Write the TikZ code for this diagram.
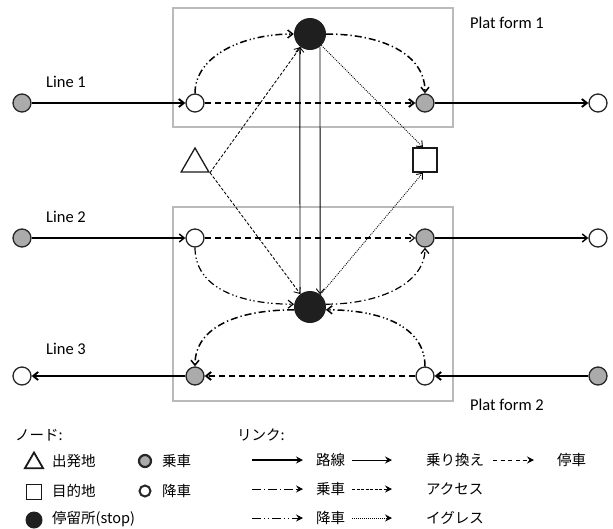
\documentclass[tikz,border=0pt]{standalone}
\usepackage{fontspec}
\setmainfont{Carlito}
\newfontfamily\jp{Noto Sans CJK JP}
\usetikzlibrary{arrows.meta,shapes.geometric,calc}
\begin{document}
\begin{tikzpicture}[x=1pt,y=-1pt,
  nd/.style={circle,draw=black!85,line width=1.3pt,minimum size=18pt,inner sep=0pt},
  board/.style={nd,fill=black!33},
  alight/.style={nd,fill=white},
  stopn/.style={circle,fill=black!88,minimum size=32pt,inner sep=0pt},
  pform/.style={draw=black!27,line width=1.5pt},
  tip/.style={-{Straight Barb[length=5pt,width=8pt]}},
  route/.style={tip,line width=1.9pt},
  routem/.style={tip,line width=1.4pt},
  stopln/.style={tip,line width=1.9pt,dash pattern=on 6pt off 4pt},
  stoplnm/.style={tip,line width=1.1pt,dash pattern=on 6pt off 4pt},
  boardln/.style={tip,line width=1.2pt,dash pattern=on 7pt off 3pt on 1.3pt off 3pt},
  alightln/.style={tip,line width=1.2pt,dash pattern=on 7pt off 3pt on 1.3pt off 2.5pt on 1.3pt off 3pt},
  transfer/.style={tip,line width=0.9pt},
  access/.style={tip,line width=0.85pt,dash pattern=on 3pt off 1.8pt},
  egress/.style={tip,line width=0.9pt,dash pattern=on 0.9pt off 1.2pt},
  lbl/.style={font=\fontsize{16.5}{18}\selectfont,inner sep=0pt},
  jtxt/.style={font=\jp\fontsize{14.5}{16}\selectfont,inner sep=0pt,anchor=west},
  ltip/.style={-{Stealth[length=7pt,width=7pt,inset=2.5pt]}},
]
\useasboundingbox (0,0) rectangle (613,528);

% platforms
\draw[pform] (173,8) rectangle (453,127);
\draw[pform] (173,207) rectangle (453,401);
\node[lbl] (pf1) at (507,23) {Plat form 1};
\node[lbl] (pf2) at (507,405) {Plat form 2};

% line labels
\node[lbl] (t1) at (66,82) {Line 1};
\node[lbl] (t2) at (66,217) {Line 2};
\node[lbl] (t3) at (66,349) {Line 3};

% stops
\node[stopn] (stopT) at (310,34) {};
\node[stopn] (stopB) at (310,307) {};

% line 1
\node[board] (l1s) at (22,103) {};
\node[alight] (a1) at (195,103) {};
\node[board] (b1) at (425,103) {};
\node[alight] (l1e) at (598,103) {};
% line 2
\node[board] (l2s) at (22,238) {};
\node[alight] (a2) at (195,238) {};
\node[board] (b2) at (425,238) {};
\node[alight] (l2e) at (598,238) {};
% line 3
\node[board] (l3s) at (598,376) {};
\node[alight] (a3) at (425,376) {};
\node[board] (b3) at (195,376) {};
\node[alight] (l3e) at (22,376) {};

% origin / destination
\node[regular polygon,regular polygon sides=3,draw=black!90,line width=1.3pt,minimum size=32pt,inner sep=0pt] (tri) at (195,164) {};
\node[rectangle,draw=black!90,line width=1.3pt,minimum size=24pt,inner sep=0pt,fill=white] (sq) at (425,160) {};

% routes
\draw[route] (l1s) -- (a1);
\draw[stopln] (a1) -- (b1);
\draw[route] (b1) -- (l1e);
\draw[routem] (l2s) -- (a2);
\draw[stoplnm] (a2) -- (b2);
\draw[routem] (b2) -- (l2e);
\draw[route] (l3s) -- (a3);
\draw[stopln] (a3) -- (b3);
\draw[route] (b3) -- (l3e);

% alight / board links
\draw[alightln,line width=1.5pt] (a1.north) .. controls +(0,-38) and +(-50,0) .. (stopT.west);
\draw[boardln,line width=1.5pt] (stopT.east) .. controls +(55,0) and +(0,-40) .. (b1.north);
\draw[alightln] (a2.south) .. controls +(0,40) and +(-55,0) .. (stopB.170);
\draw[boardln] (stopB.10) .. controls +(55,0) and +(0,35) .. (b2.south);
\draw[alightln,line width=1.5pt] (a3.north) .. controls +(0,-40) and +(55,0) .. (stopB.-10);
\draw[boardln,line width=1.5pt] (stopB.190) .. controls +(-55,0) and +(0,-40) .. (b3.north);

% transfers
\draw[transfer] (stopB.128.7) -- (stopT.231.3);
\draw[transfer] (stopT.308.7) -- (stopB.51.3);

% access / egress
\draw[access] (tri.corner 3) -- (stopT);
\draw[access] (tri.corner 3) -- (stopB);
\draw[egress] (stopT) -- ($(sq.north)+(-2,0)$);
\draw[egress] (stopB) -- ($(sq.south)+(-2,0)$);

% legend: nodes
\node[jtxt] (hN) at (15,435) {ノード:};
\node[regular polygon,regular polygon sides=3,draw=black!90,line width=1.8pt,minimum size=21pt,inner sep=0pt] (gtri) at (34,463) {};
\node[jtxt] (gtriT) at (52,461) {出発地};
\node[rectangle,draw=black!90,line width=1.8pt,minimum size=15pt,inner sep=0pt] (gsq) at (34,492) {};
\node[jtxt] (gsqT) at (52,491) {目的地};
\node[circle,fill=black!88,minimum size=17pt,inner sep=0pt] (gst) at (34,520) {};
\node[jtxt] (gstT) at (52,519) {停留所(stop)};
\node[circle,draw=black!85,fill=black!33,line width=2.2pt,minimum size=12pt,inner sep=0pt] (gb) at (145,461) {};
\node[jtxt] (gbT) at (162,461) {乗車};
\node[circle,draw=black!85,fill=white,line width=2pt,minimum size=11pt,inner sep=0pt] (ga) at (145,491) {};
\node[jtxt] (gaT) at (162,491) {降車};

% legend: links
\node[jtxt] (hL) at (237,435) {リンク:};
\coordinate (r1a) at (252,460); \coordinate (r1b) at (303,460);
\coordinate (r1c) at (352,460); \coordinate (r1d) at (392,460);
\coordinate (r1e) at (493,460); \coordinate (r1f) at (534,460);
\coordinate (r2a) at (252,489); \coordinate (r2b) at (303,489);
\coordinate (r2c) at (352,489); \coordinate (r2d) at (392,489);
\coordinate (r3a) at (252,518); \coordinate (r3b) at (303,518);
\coordinate (r3c) at (352,518); \coordinate (r3d) at (392,518);
\draw[ltip,line width=1.4pt] (r1a) -- (r1b);
\node[jtxt] at (316,460) {路線};
\draw[ltip,line width=0.9pt] (r1c) -- (r1d);
\node[jtxt] at (426,460) {乗り換え};
\draw[ltip,line width=0.9pt,dash pattern=on 4pt off 3.5pt] (r1e) -- (r1f);
\node[jtxt] at (557,460) {停車};
\draw[ltip,line width=0.9pt,dash pattern=on 9pt off 3pt on 1.2pt off 3pt] (r2a) -- (r2b);
\node[jtxt] at (316,489) {乗車};
\draw[ltip,line width=0.8pt,dash pattern=on 3pt off 1.5pt] (r2c) -- (r2d);
\node[jtxt] at (426,489) {アクセス};
\draw[ltip,line width=0.9pt,dash pattern=on 9pt off 3pt on 1.2pt off 2.5pt on 1.2pt off 3pt] (r3a) -- (r3b);
\node[jtxt] at (316,518) {降車};
\draw[ltip,line width=0.8pt,dash pattern=on 0.8pt off 1.2pt] (r3c) -- (r3d);
\node[jtxt] at (426,518) {イグレス};
\end{tikzpicture}
\end{document}
